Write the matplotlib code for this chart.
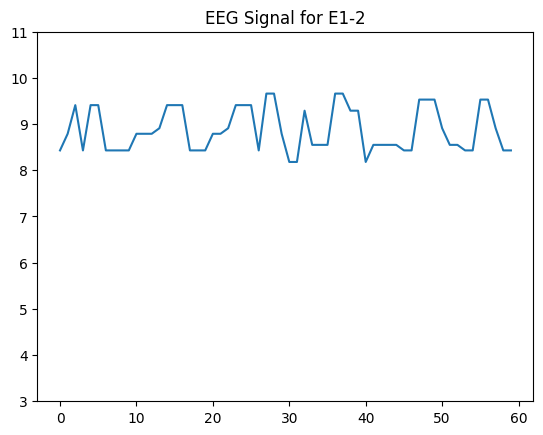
import matplotlib
matplotlib.use('Agg')
import matplotlib.pyplot as plt

# signal values, one per sample
signal = [8.43, 8.79, 9.41, 8.43, 9.41, 9.41, 8.43, 8.43, 8.43, 8.43,
          8.79, 8.79, 8.79, 8.91, 9.41, 9.41, 9.41, 8.43, 8.43, 8.43,
          8.79, 8.79, 8.91, 9.41, 9.41, 9.41, 8.43, 9.66, 9.66, 8.79,
          8.18, 8.18, 9.29, 8.55, 8.55, 8.55, 9.66, 9.66, 9.29, 9.29,
          8.18, 8.55, 8.55, 8.55, 8.55, 8.43, 8.43, 9.53, 9.53, 9.53,
          8.91, 8.55, 8.55, 8.43, 8.43, 9.53, 9.53, 8.91, 8.43, 8.43]
samples = list(range(len(signal)))

fig = plt.figure(figsize=(6.4, 4.8), dpi=100)
plt.plot(samples, signal)
plt.title('EEG Signal for E1-2')
plt.ylim(3, 11)
plt.savefig('out.png', bbox_inches='tight')
plt.close()
